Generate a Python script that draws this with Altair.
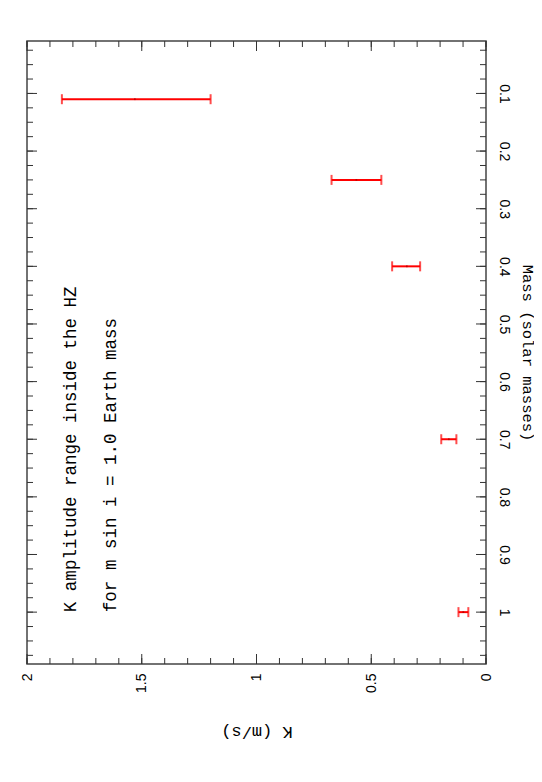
import altair as alt
import pandas as pd

# ---- data ----
mass = [0.11, 0.25, 0.40, 0.70, 1.00]
k_low = [1.20, 0.456, 0.287, 0.129, 0.077]
k_high = [1.848, 0.673, 0.409, 0.195, 0.120]
k_mid = [1.53, 0.565, 0.345, 0.162, 0.099]

k_labels = [0, 0.5, 1, 1.5, 2]
mass_labels = [0.1, 0.2, 0.3, 0.4, 0.5, 0.6, 0.7, 0.8, 0.9, 1.0]
k_minor = [i / 10 for i in range(0, 21)]
mass_minor = [i / 40 for i in range(1, 44)]

notes = ["K amplitude range inside the HZ", "for m sin i = 1.0 Earth mass"]
notes_k = [1.785, 1.612]
notes_mass = [1.0, 1.0]

W, H = 459, 623
MAJ, MIN = 10, 6

bars = pd.DataFrame({"mass": mass, "klo": k_low, "khi": k_high, "kmid": k_mid})
kmaj = pd.DataFrame({"k": k_labels})
kmin = pd.DataFrame({"k": k_minor})
mmaj = pd.DataFrame({"m": mass_labels})
mmin = pd.DataFrame({"m": mass_minor})
txt = pd.DataFrame({"t": notes, "k": notes_k, "m": notes_mass})

xs = alt.Scale(domain=[0, 2], reverse=True, nice=False, zero=False)
ys = alt.Scale(domain=[0.009, 1.09], reverse=True, nice=False, zero=False)

xaxis = alt.Axis(
    values=k_labels, format="~g", ticks=False, domain=False, grid=False,
    labelAngle=270, labelAlign="right", labelBaseline="middle", labelPadding=9,
    labelFlush=False, labelOverlap=False, labelFont="Liberation Sans",
    labelFontSize=14, labelColor="black",
    title="K (m/s)", titleAngle=180, titleBaseline="bottom", titlePadding=30,
    titleFont="Liberation Mono", titleFontSize=17, titleFontWeight="normal",
    titleColor="black",
)
yaxis = alt.Axis(
    orient="right", values=mass_labels, format="~g", ticks=False, domain=False,
    grid=False, labelAngle=90, labelAlign="center", labelBaseline="bottom",
    labelPadding=10, labelFlush=False, labelOverlap=False,
    labelFont="Liberation Sans", labelFontSize=14, labelColor="black",
    title="Mass (solar masses)", titleAngle=90, titleBaseline="bottom",
    titlePadding=9, titleFont="Liberation Mono", titleFontSize=15.5,
    titleFontWeight="normal", titleColor="black",
)

base = alt.Chart(bars)
err = base.mark_rule(color="#ff0000", strokeWidth=2).encode(
    x=alt.X("klo:Q", scale=xs, axis=xaxis),
    x2="khi:Q",
    y=alt.Y("mass:Q", scale=ys, axis=yaxis),
)
cap_lo = base.mark_tick(color="#ff0000", orient="vertical", size=10, thickness=2).encode(
    x=alt.X("klo:Q", scale=xs), y=alt.Y("mass:Q", scale=ys)
)
cap_hi = base.mark_tick(color="#ff0000", orient="vertical", size=10, thickness=2).encode(
    x=alt.X("khi:Q", scale=xs), y=alt.Y("mass:Q", scale=ys)
)
mid = base.mark_square(color="#b00000", size=3, opacity=0.8).encode(
    x=alt.X("kmid:Q", scale=xs), y=alt.Y("mass:Q", scale=ys)
)

tick_style = dict(color="#333333", strokeWidth=1)
kb_maj = alt.Chart(kmaj).mark_rule(**tick_style).encode(
    x=alt.X("k:Q", scale=xs), y=alt.value(H), y2=alt.value(H - MAJ))
kt_maj = alt.Chart(kmaj).mark_rule(**tick_style).encode(
    x=alt.X("k:Q", scale=xs), y=alt.value(0), y2=alt.value(MAJ))
kb_min = alt.Chart(kmin).mark_rule(**tick_style).encode(
    x=alt.X("k:Q", scale=xs), y=alt.value(H), y2=alt.value(H - MIN))
kt_min = alt.Chart(kmin).mark_rule(**tick_style).encode(
    x=alt.X("k:Q", scale=xs), y=alt.value(0), y2=alt.value(MIN))
ml_maj = alt.Chart(mmaj).mark_rule(**tick_style).encode(
    y=alt.Y("m:Q", scale=ys), x=alt.value(0), x2=alt.value(MAJ))
mr_maj = alt.Chart(mmaj).mark_rule(**tick_style).encode(
    y=alt.Y("m:Q", scale=ys), x=alt.value(W), x2=alt.value(W - MAJ))
ml_min = alt.Chart(mmin).mark_rule(**tick_style).encode(
    y=alt.Y("m:Q", scale=ys), x=alt.value(0), x2=alt.value(MIN))
mr_min = alt.Chart(mmin).mark_rule(**tick_style).encode(
    y=alt.Y("m:Q", scale=ys), x=alt.value(W), x2=alt.value(W - MIN))

notes_layer = alt.Chart(txt).mark_text(
    angle=270, align="left", baseline="alphabetic", font="Liberation Mono",
    fontSize=17.5, color="black",
).encode(x=alt.X("k:Q", scale=xs), y=alt.Y("m:Q", scale=ys), text="t:N")

chart = alt.layer(
    err, cap_lo, cap_hi, mid,
    kb_maj, kt_maj, kb_min, kt_min, ml_maj, mr_maj, ml_min, mr_min,
    notes_layer,
).properties(
    width=W, height=H,
    autosize=alt.AutoSizeParams(type="none"),
    padding={"left": 19, "top": 33, "right": 48, "bottom": 100},
).configure_view(stroke="#444444", strokeWidth=1.5)

chart.save("out.html", embed_options={"renderer": "svg", "actions": False})
